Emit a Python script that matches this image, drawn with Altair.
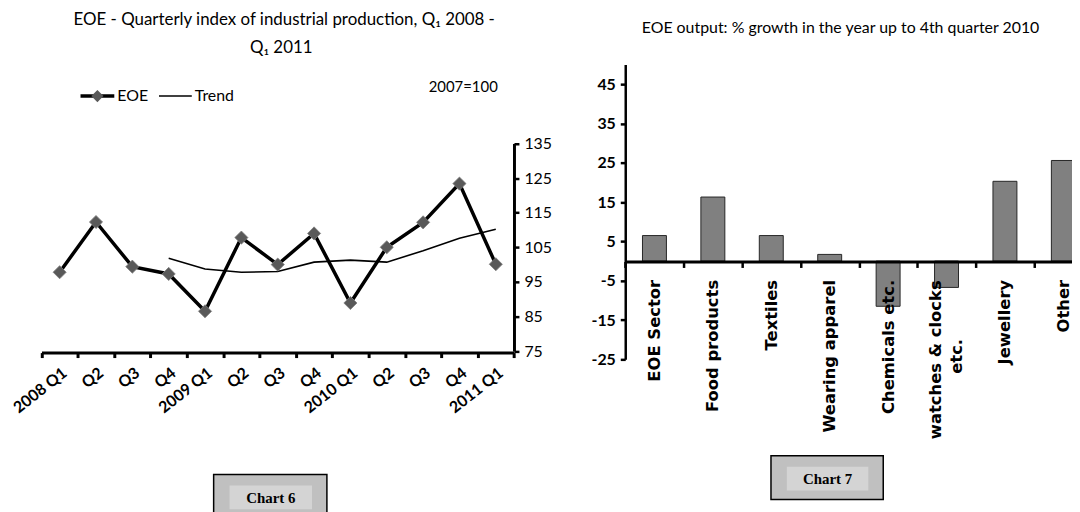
import altair as alt
import pandas as pd

# ---------------- data ----------------
quarters = ["2008 Q1", "2008 Q2", "2008 Q3", "2008 Q4",
            "2009 Q1", "2009 Q2", "2009 Q3", "2009 Q4",
            "2010 Q1", "2010 Q2", "2010 Q3", "2010 Q4", "2011 Q1"]
quarter_labels = ["2008 Q1", "Q2", "Q3", "Q4", "2009 Q1", "Q2", "Q3", "Q4",
                  "2010 Q1", "Q2", "Q3", "Q4", "2011 Q1"]
eoe_index = [97.8, 112.3, 99.4, 97.3, 86.5, 107.8, 100.0, 109.0,
             88.9, 105.0, 112.2, 123.4, 100.1]
trend_quarters = ["2008 Q4", "2009 Q1", "2009 Q2", "2009 Q3", "2009 Q4",
                  "2010 Q1", "2010 Q2", "2010 Q3", "2010 Q4", "2011 Q1"]
trend_index = [101.8, 98.7, 97.8, 98.0, 100.7, 101.3, 100.7, 104.0, 107.6, 110.2]
index_ticks = [75, 85, 95, 105, 115, 125, 135]

sectors = ["EOE Sector", "Food products", "Textiles", "Wearing apparel",
           "Chemicals etc.", "watches & clocks etc.", "Jewellery", "Other"]
# the wrapped label is drawn separately as two lines
sector_labels = ["EOE Sector", "Food products", "Textiles", "Wearing apparel",
                 "Chemicals etc.", "", "Jewellery", "Other"]
wrapped_sector = "watches & clocks etc."
wrapped_lines = ["watches & clocks", "etc."]
growth = [6.5, 16.3, 6.5, 1.7, -11.5, -6.7, 20.3, 25.6]
growth_ticks = [-25, -15, -5, 5, 15, 25, 35, 45]

W, H = 1071, 504
FONT = "Lato"

df_eoe = pd.DataFrame({"quarter": quarters, "value": eoe_index})
df_trend = pd.DataFrame({"quarter": trend_quarters, "value": trend_index})
df_growth = pd.DataFrame({"sector": sectors, "growth": growth})
df_wrap1 = pd.DataFrame({"sector": [wrapped_sector], "text": [wrapped_lines[0]]})
df_wrap2 = pd.DataFrame({"sector": [wrapped_sector], "text": [wrapped_lines[1]]})
one = pd.DataFrame({"a": [0]})


def js_list(items):
    return "[" + ",".join("'" + s + "'" for s in items) + "]"


q_label_expr = js_list(quarter_labels) + "[indexof(" + js_list(quarters) + ", datum.value)]"
s_label_expr = js_list(sector_labels) + "[indexof(" + js_list(sectors) + ", datum.value)]"
num_expr = "datum.value < 0 ? '-' + abs(datum.value) : '' + datum.value"

# ---------------- chart 6 : quarterly index ----------------
x_q_scale = alt.Scale(type="band", domain=quarters, range=[33.7, 509.3],
                      paddingInner=0, paddingOuter=0)
y_q_scale = alt.Scale(domain=[75, 135], range=[343.7, 134.7], nice=False, zero=False)

x_q_axis = alt.Axis(orient="bottom", offset=345.2 - H, title=None,
                    domainColor="black", domainWidth=3, tickBand="extent",
                    tickColor="black", tickWidth=3, tickSize=5,
                    labelExpr=q_label_expr, labelAngle=-38, labelFont=FONT,
                    labelFontWeight="bold", labelFontSize=16, labelColor="black",
                    labelPadding=7, labelOverlap=False, labelBound=False)
y_q_axis = alt.Axis(orient="right", offset=509.3 - W, title=None, grid=False,
                    values=index_ticks, domainColor="black", domainWidth=3,
                    tickColor="black", tickWidth=2.5, tickSize=5,
                    labelFont=FONT, labelFontSize=16, labelColor="black",
                    labelPadding=5)

x_q = alt.X("quarter:N", sort=quarters, scale=x_q_scale, axis=x_q_axis, bandPosition=0.5)
y_q = alt.Y("value:Q", scale=y_q_scale, axis=y_q_axis)

eoe_line = alt.Chart(df_eoe).mark_line(color="black", strokeWidth=3.5).encode(x=x_q, y=y_q)
eoe_pts = alt.Chart(df_eoe).mark_point(shape="diamond", filled=True, size=175,
                                       color="#595959", stroke="#7f7f7f",
                                       strokeWidth=0.8, opacity=1).encode(x=x_q, y=y_q)
trend_line = alt.Chart(df_trend).mark_line(color="black", strokeWidth=1.6).encode(x=x_q, y=y_q)
chart6 = alt.layer(eoe_line, trend_line, eoe_pts)

# ---------------- chart 7 : growth bars ----------------
x_s_scale = alt.Scale(type="band", domain=sectors, range=[621.3, 1091.7],
                      paddingInner=0, paddingOuter=0)
y_s_scale = alt.Scale(domain=[-25, 50], range=[352, 55.3], nice=False, zero=False)

x_s_axis = alt.Axis(orient="bottom", offset=253.5 - H, title=None, zindex=1,
                    domainColor="black", domainWidth=3, tickBand="extent",
                    tickColor="black", tickWidth=2.5, tickSize=6,
                    labelExpr=s_label_expr, labelAngle=-90, labelFont="DejaVu Sans",
                    labelFontWeight="bold", labelFontSize=16.5, labelColor="black",
                    labelPadding=12, labelOverlap=False, labelBound=False,
                    labelLimit=400)
y_s_axis = alt.Axis(orient="left", offset=-621.3, title=None, grid=False,
                    values=growth_ticks, labelExpr=num_expr,
                    domainColor="black", domainWidth=2.5,
                    tickColor="black", tickWidth=2.5, tickSize=5,
                    labelFont=FONT, labelFontSize=16, labelFontWeight="bold",
                    labelColor="black", labelPadding=5)

x_s = alt.X("sector:N", sort=sectors, scale=x_s_scale, axis=x_s_axis, bandPosition=0.5)
bars = alt.Chart(df_growth).mark_bar(width=alt.RelativeBandSize(0.41), color="#808080",
                                     stroke="#262626", strokeWidth=1, clip=True).encode(
    x=alt.X("sector:N", sort=sectors, scale=x_s_scale, axis=x_s_axis),
    y=alt.Y("growth:Q", scale=y_s_scale, axis=y_s_axis),
    y2=alt.datum(0),
)
wrap_style = dict(angle=270, baseline="middle", font="DejaVu Sans", fontWeight="bold",
                  fontSize=16.5, color="black")
wrap1 = alt.Chart(df_wrap1).mark_text(align="right", dy=-11, **wrap_style).encode(
    x=x_s, y=alt.value(272.5), text="text:N")
wrap2 = alt.Chart(df_wrap2).mark_text(align="center", dy=11, **wrap_style).encode(
    x=x_s, y=alt.value(349), text="text:N")
chart7 = alt.layer(bars, wrap1, wrap2)

# ---------------- annotations ----------------
def label(text, x, y, size=14, align="center", weight="normal", font=FONT, color="black"):
    return alt.Chart(one).mark_text(text=text, align=align, baseline="middle",
                                    fontSize=size, fontWeight=weight, font=font,
                                    color=color).encode(x=alt.value(x), y=alt.value(y))


def box(x1, x2, y1, y2, fill, stroke=None, sw=0):
    kw = dict(fill=fill)
    if stroke:
        kw.update(stroke=stroke, strokeWidth=sw)
    return alt.Chart(one).mark_rect(**kw).encode(
        x=alt.value(x1), x2=alt.value(x2), y=alt.value(y1), y2=alt.value(y2))


def hline(x1, x2, y, sw):
    return alt.Chart(one).mark_rule(color="black", strokeWidth=sw).encode(
        x=alt.value(x1), x2=alt.value(x2), y=alt.value(y))


title6a = label("EOE - Quarterly index of industrial production, Q\u2081 2008 -", 278, 10, size=17)
title6b = label("Q\u2081 2011", 275, 39, size=17)
base_note = label("2007=100", 493, 78, size=15, align="right")
leg_eoe_line = hline(73, 107, 87, 3.5)
leg_eoe_pt = alt.Chart(one).mark_point(shape="diamond", filled=True, size=150, color="#595959",
                                       opacity=1).encode(x=alt.value(90), y=alt.value(87))
leg_eoe_txt = label("EOE", 110, 87, size=16, align="left")
leg_tr_line = hline(152, 185, 87, 1.6)
leg_tr_txt = label("Trend", 188, 87, size=16, align="left")

title7 = label("EOE output: % growth in the year up to 4th quarter 2010", 838, 19, size=16)

box6 = box(207, 321, 468, 515, "#c0c0c0", "black", 1.5)
box6i = box(223, 306, 479, 503, "#d4d4d4")
txt6 = label("Chart 6", 264.5, 491.5, size=15, weight="bold", font="Liberation Serif")
box7 = box(768, 881, 449, 493, "#c0c0c0", "black", 1.5)
box7i = box(784, 866, 460, 484, "#d4d4d4")
txt7 = label("Chart 7", 825, 472, size=15, weight="bold", font="Liberation Serif")

chart = alt.layer(
    chart6, chart7,
    title6a, title6b, base_note,
    leg_eoe_line, leg_eoe_pt, leg_eoe_txt, leg_tr_line, leg_tr_txt,
    title7, box6, box6i, txt6, box7, box7i, txt7,
).resolve_scale(x="independent", y="independent").properties(
    width=W, height=H, padding=0, background="white",
    autosize=alt.AutoSizeParams(type="none"),
).configure_view(stroke=None)

chart.save("out.html", embed_options={"renderer": "svg", "actions": False})
